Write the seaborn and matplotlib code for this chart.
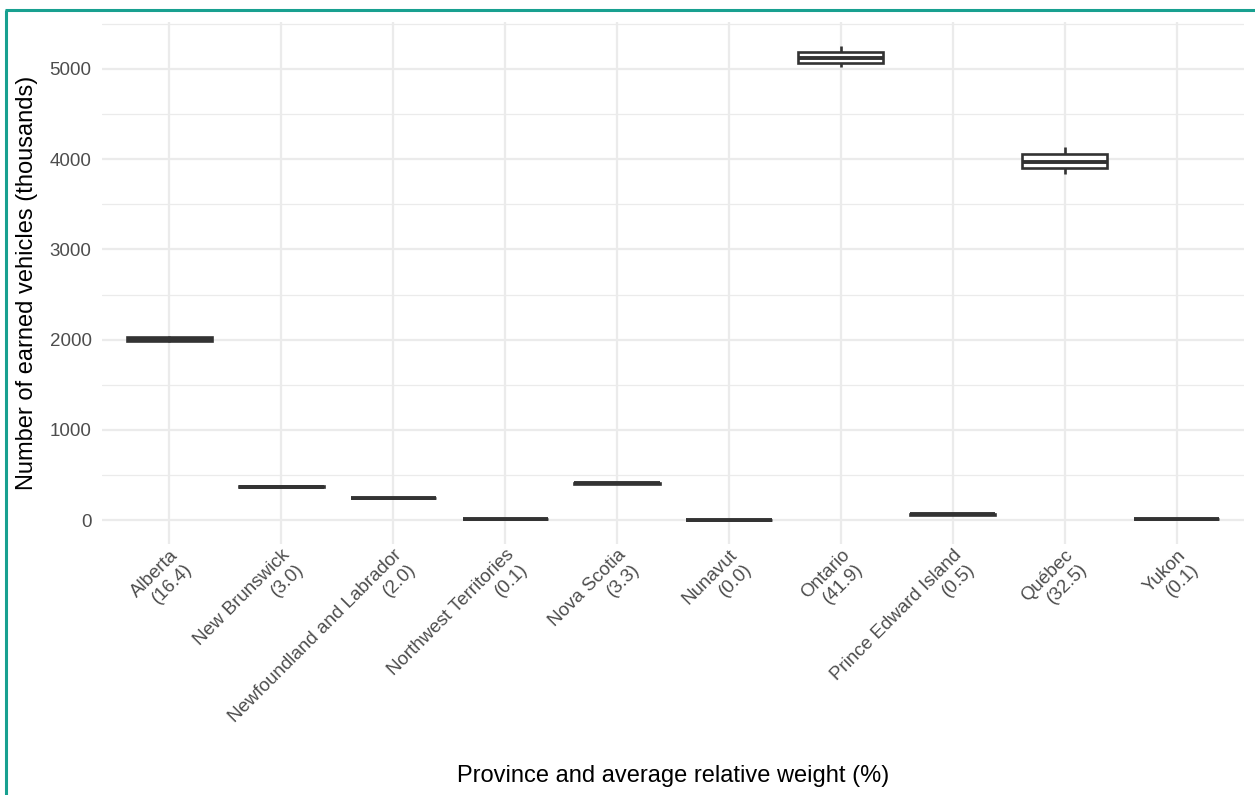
import numpy as np
import pandas as pd
import matplotlib
matplotlib.use("Agg")
import matplotlib.pyplot as plt
from matplotlib.lines import Line2D
from matplotlib.ticker import MultipleLocator
import seaborn as sns

# ---- data (thousands of vehicles) ----
provinces = ["Alberta", "New Brunswick", "Newfoundland and Labrador",
             "Northwest Territories", "Nova Scotia", "Nunavut", "Ontario",
             "Prince Edward Island", "Québec", "Yukon"]
weights = ["16.4", "3.0", "2.0", "0.1", "3.3", "0.0", "41.9", "0.5", "32.5", "0.1"]

whisker_low = [1975, 362, 238, 11, 399, 1, 5020, 59, 3832, 10]
q1 = [1985, 366, 241, 12, 403, 2, 5069, 61, 3901, 11]
median = [2005, 370, 244, 13, 406, 3, 5124, 63, 3968, 12]
q3 = [2025, 374, 247, 14, 409, 4, 5186, 65, 4053, 13]
whisker_high = [2035, 378, 250, 15, 413, 5, 5252, 67, 4134, 14]

x_title = "Province and average relative weight (%)"
y_title = "Number of earned vehicles (thousands)"
y_ticks = [0, 1000, 2000, 3000, 4000, 5000]

# ---- long table built from the arrays ----
tick_labels = [f"{p}\n({w})" for p, w in zip(provinces, weights)]
rows = []
for lab, a, b, c, d, e in zip(tick_labels, whisker_low, q1, median, q3, whisker_high):
    for v in (a, b, c, d, e):
        rows.append({"province": lab, "value": v})
df = pd.DataFrame(rows)

sns.set_theme(style="white")
plt.rcParams["font.family"] = ["Liberation Sans", "DejaVu Sans"]

fig = plt.figure(figsize=(12.55, 7.95), dpi=100)
ax = fig.add_axes([0.0813, 0.3161, 0.9099, 0.6556])

line_col = "#333333"
sns.boxplot(data=df, x="province", y="value", order=tick_labels, ax=ax,
            width=0.76, color="white", linecolor=line_col, linewidth=1.9,
            showfliers=False, whis=1.5,
            medianprops=dict(linewidth=2.8, color=line_col),
            capprops=dict(linewidth=0))

# limits with ggplot-like expansion
lo, hi = min(whisker_low), max(whisker_high)
pad = 0.05 * (hi - lo)
ax.set_ylim(lo - pad, hi + pad)
ax.set_xlim(-0.6, len(provinces) - 0.4)

ax.set_yticks(y_ticks)
ax.yaxis.set_minor_locator(MultipleLocator(500))
ax.grid(True, which="major", axis="both", color="#ebebeb", linewidth=1.6)
ax.grid(True, which="minor", axis="y", color="#ebebeb", linewidth=0.9)
ax.set_axisbelow(True)
for s in ax.spines.values():
    s.set_visible(False)
ax.tick_params(axis="both", which="both", length=0)
ax.tick_params(axis="y", labelsize=13.5, labelcolor="#4d4d4d", pad=7.5)
ax.tick_params(axis="x", labelsize=13.5, labelcolor="#4d4d4d", pad=2)
ax.set_xticks(range(len(tick_labels)))
ax.set_xticklabels(tick_labels, rotation=45, ha="right", va="top",
                   rotation_mode="anchor", multialignment="right")

ax.set_xlabel(x_title, fontsize=17, color="black")
ax.set_ylabel(y_title, fontsize=17, color="black")
ax.xaxis.set_label_coords(0.5, -0.425)
ax.yaxis.set_label_coords(-0.056, 0.5)

# teal frame (left and top edges visible)
teal = "#18a090"
fig.add_artist(Line2D([0.005, 0.005], [0.0, 0.988], transform=fig.transFigure,
                      color=teal, linewidth=2.2, solid_capstyle="butt"))
fig.add_artist(Line2D([0.004, 1.0], [0.988, 0.988], transform=fig.transFigure,
                      color=teal, linewidth=2.2, solid_capstyle="butt"))

fig.savefig("out.png", dpi=100, facecolor="white")
